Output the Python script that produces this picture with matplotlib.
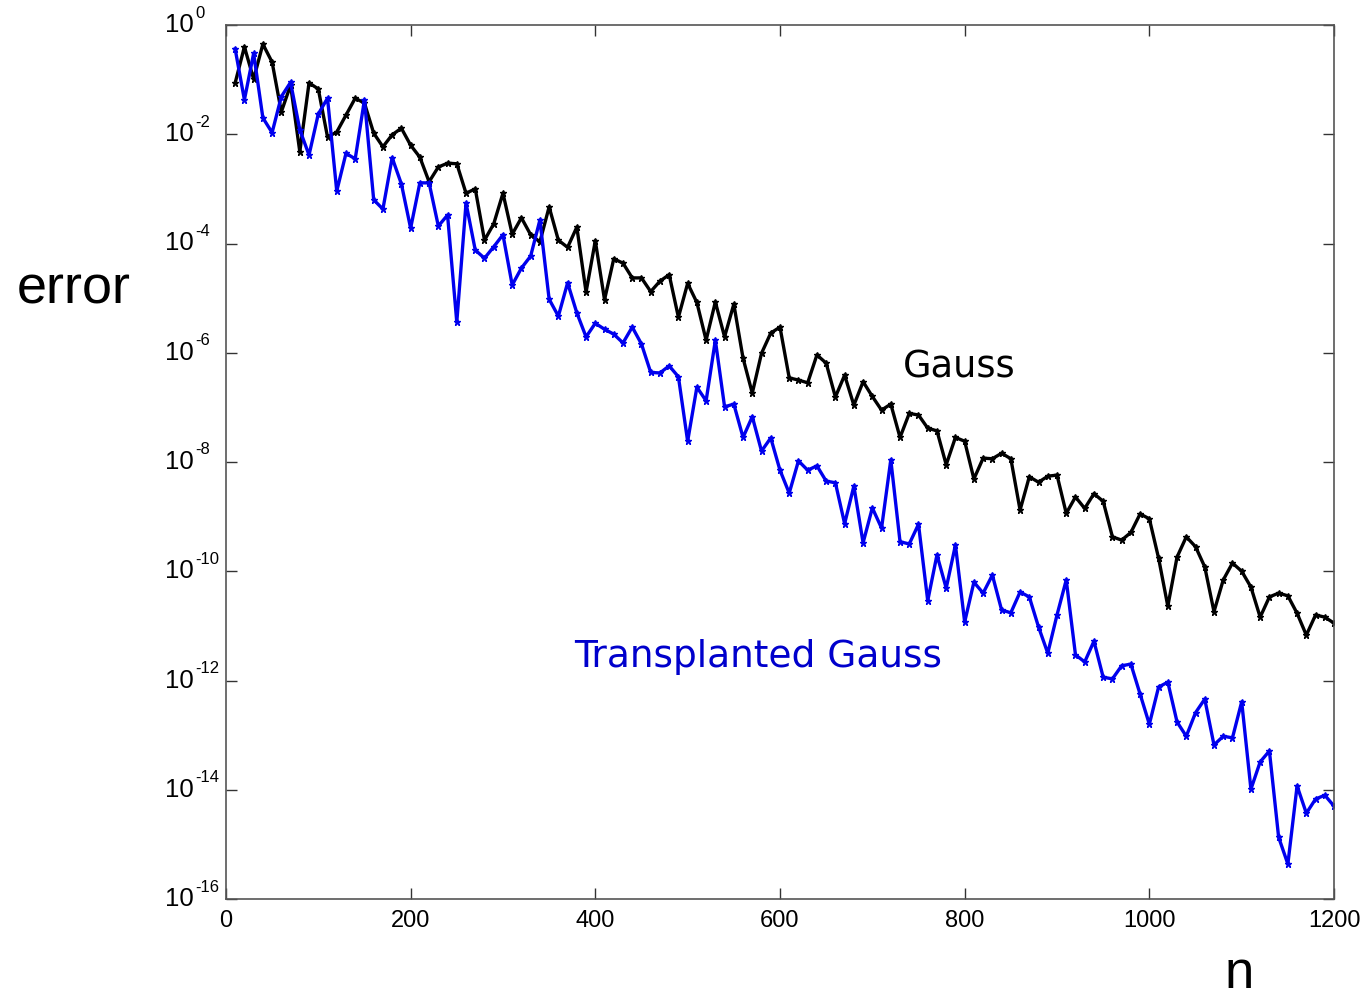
import matplotlib

matplotlib.use("Agg")
import matplotlib.pyplot as plt
import numpy as np

# quadrature error vs number of nodes n (values read as log10 of error)
N = list(range(10, 1201, 10))

GAUSS_LOG = [
    -1.06, -0.40, -0.99, -0.35, -0.68, -1.59, -1.10, -2.32, -1.06, -1.17,
    -2.05, -1.96, -1.65, -1.34, -1.43, -1.98, -2.23, -2.01, -1.89, -2.20,
    -2.42, -2.87, -2.60, -2.53, -2.54, -3.08, -3.00, -3.94, -3.64, -3.08,
    -3.83, -3.53, -3.84, -3.97, -3.33, -3.94, -4.07, -3.70, -4.89, -3.95,
    -5.03, -4.28, -4.36, -4.63, -4.63, -4.88, -4.69, -4.57, -5.35, -4.73,
    -5.08, -5.77, -5.07, -5.71, -5.11, -6.10, -6.74, -6.01, -5.64, -5.53,
    -6.46, -6.50, -6.55, -6.04, -6.19, -6.81, -6.41, -6.96, -6.53, -6.80,
    -7.05, -6.94, -7.55, -7.11, -7.14, -7.38, -7.43, -8.05, -7.55, -7.62,
    -8.31, -7.93, -7.94, -7.84, -7.94, -8.88, -8.27, -8.37, -8.26, -8.24,
    -8.94, -8.64, -8.85, -8.58, -8.72, -9.37, -9.43, -9.29, -8.95, -9.04,
    -9.76, -10.64, -9.74, -9.37, -9.55, -9.92, -10.74, -10.16, -9.85, -10.00,
    -10.29, -10.84, -10.47, -10.40, -10.45, -10.77, -11.17, -10.80, -10.84, -10.95,
]

TRANSPLANTED_LOG = [
    -0.44, -1.37, -0.52, -1.70, -1.97, -1.31, -1.05, -1.92, -2.38, -1.63,
    -1.34, -3.04, -2.35, -2.45, -1.37, -3.20, -3.37, -2.43, -2.91, -3.72,
    -2.89, -2.89, -3.68, -3.48, -5.44, -3.26, -4.12, -4.27, -4.06, -3.84,
    -4.76, -4.45, -4.23, -3.57, -5.02, -5.33, -4.72, -5.27, -5.71, -5.46,
    -5.57, -5.66, -5.82, -5.53, -5.84, -6.36, -6.37, -6.24, -6.44, -7.62,
    -6.63, -6.88, -5.77, -6.99, -6.94, -7.55, -7.17, -7.80, -7.56, -8.15,
    -8.57, -7.98, -8.15, -8.07, -8.35, -8.38, -9.13, -8.44, -9.48, -8.84,
    -9.21, -7.96, -9.46, -9.50, -9.14, -10.54, -9.70, -10.31, -9.52, -10.93,
    -10.20, -10.40, -10.07, -10.71, -10.76, -10.38, -10.47, -11.02, -11.50, -10.80,
    -10.16, -11.53, -11.66, -11.28, -11.94, -11.97, -11.73, -11.70, -12.25, -12.80,
    -12.12, -12.03, -12.76, -13.02, -12.59, -12.34, -13.18, -13.02, -13.05, -12.39,
    -13.99, -13.49, -13.29, -14.87, -15.36, -13.93, -14.43, -14.17, -14.10, -14.30,
]

Y_EXPONENTS = [0, -2, -4, -6, -8, -10, -12, -14, -16]
X_TICKS = [0, 200, 400, 600, 800, 1000, 1200]

fig = plt.figure(figsize=(13.66, 10), dpi=100)
ax = fig.add_axes([0.1654, 0.101, 0.8112, 0.874])

gauss = 10.0 ** np.array(GAUSS_LOG)
transplanted = 10.0 ** np.array(TRANSPLANTED_LOG)

ax.semilogy(N, gauss, color="black", lw=2.4, marker="*", ms=5, mew=1)
ax.semilogy(N, transplanted, color="#0000ee", lw=2.4, marker="*", ms=5, mew=1)

ax.set_xlim(0, 1200)
ax.set_ylim(1e-16, 1)
ax.set_xticks(X_TICKS)
ax.set_xticklabels([str(t) for t in X_TICKS], family="Liberation Sans", fontsize=17)
ax.set_yticks([10.0 ** e for e in Y_EXPONENTS])
ax.set_yticklabels([""] * len(Y_EXPONENTS))
ax.minorticks_off()
ax.tick_params(direction="in", length=8, width=1, top=True, right=True,
               colors="#333333", labelcolor="black", pad=8)
for s in ax.spines.values():
    s.set_color("#555555")
    s.set_linewidth(1.2)

# MATLAB-style "10" with a small raised exponent
ytrans = ax.get_yaxis_transform()
for e in Y_EXPONENTS:
    ax.annotate("10", xy=(0, 10.0 ** e), xycoords=ytrans,
                xytext=(-32, 0), textcoords="offset pixels",
                ha="right", va="center", fontsize=18.5,
                family="Liberation Sans", annotation_clip=False)
    ax.annotate(str(e), xy=(0, 10.0 ** e), xycoords=ytrans,
                xytext=(-31, 12), textcoords="offset pixels",
                ha="left", va="center", fontsize=12,
                family="Liberation Sans", annotation_clip=False)

ax.text(733, 10 ** -6.26, "Gauss", fontsize=26.5, family="DejaVu Sans",
        va="center", ha="left", color="black")
ax.text(377, 10 ** -11.57, "Transplanted Gauss", fontsize=27, family="DejaVu Sans",
        va="center", ha="left", color="#0000cc")

fig.text(0.054, 0.71, "error", fontsize=39, family="Liberation Sans",
         ha="center", va="center")
fig.text(0.907, 0.012, "n", fontsize=38, family="Liberation Sans",
         ha="center", va="baseline")

fig.savefig("out.png", dpi=100)
